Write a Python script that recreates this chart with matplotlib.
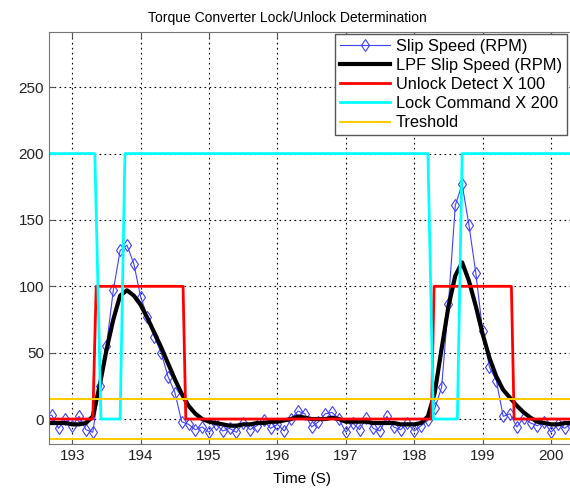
import numpy as np
import matplotlib
matplotlib.use('Agg')
import matplotlib.pyplot as plt

plt.rcParams['font.family'] = ['Liberation Sans', 'DejaVu Sans']

# time base of the logged signals (s)
t = np.round(np.arange(192.6, 200.35, 0.1), 2)

# slip speed (RPM), one value per sample
slip = [2, 3, -7, 0, -5, 2, -8, -10, 25, 55,
        97, 127, 131, 117, 92, 77, 62, 50, 32, 20,
        -2, -4, -8, -6, -10, -4, -9, -7, -10, -3,
        -8, -5, -1, -7, -4, -9, 0, 6, 4, -6,
        -2, 4, 5, 0, -10, -3, -8, 1, -7, -9,
        2, -6, -8, -3, -9, -5, -1, 8, 24, 87,
        161, 177, 146, 110, 66, 39, 29, 2, 4, -6,
        1, -3, -5, -2, -10, -4, -7, -3]

# low pass filtered slip speed (RPM)
lpf = [-3, -3, -3, -3, -4, -4, -3, 2, 25, 52,
       75, 93, 97, 93, 86, 76, 65, 54, 42, 30,
       19, 10, 4, 0, -2, -3, -4, -5, -5, -4,
       -4, -3, -3, -2, -2, -1, 0, 2, 1, 0,
       0, 0, 1, 0, -2, -2, -2, -2, -3, -3,
       -3, -3, -4, -4, -4, -3, 2, 20, 53, 85,
       108, 118, 104, 85, 64, 46, 32, 22, 16, 10,
       5, 1, -2, -3, -4, -4, -3, -3]

# unlock detect x 100 (step signal, breakpoints)
unlock_t = [192.6, 193.30, 193.35, 194.62, 194.66, 198.25, 198.29, 199.42, 199.46, 200.4]
unlock_v = [0, 0, 100, 100, 0, 0, 100, 100, 0, 0]

# lock command x 200 (step signal, breakpoints)
lock_t = [192.6, 193.33, 193.42, 193.70, 193.77, 198.20, 198.28, 198.63, 198.70, 200.4]
lock_v = [200, 200, 0, 0, 200, 200, 0, 0, 200, 200]

thresh = [15, -15]

fig = plt.figure(figsize=(5.70, 4.91), dpi=100)
ax = fig.add_axes([49/570, 1-444/491, 526/570, 412/491])

ax.plot(t, slip, '-', color='#4040ff', lw=0.8, marker='d', ms=6,
        mfc='none', mec='#4040ff', mew=0.8, label='Slip Speed (RPM)')
ax.plot(t, lpf, '-', color='black', lw=3, label='LPF Slip Speed (RPM)')
ax.plot(unlock_t, unlock_v, '-', color='#ff0000', lw=2, label='Unlock Detect X 100')
ax.plot(lock_t, lock_v, '-', color='#00ffff', lw=2, label='Lock Command X 200')
for i, th in enumerate(thresh):
    ax.axhline(th, color='#ffcc00', lw=1.5, label='Treshold' if i == 0 else None)

ax.set_xlim(192.66, 192.66 + 526/68.4)
ax.set_ylim(-18.8, 291.6)
ax.set_xticks(range(193, 201))
ax.set_yticks([0, 50, 100, 150, 200, 250])
ax.grid(True, color='black', linestyle=(0, (1.5, 3)), lw=0.8)
ax.tick_params(direction='in', top=True, right=True, length=4, labelsize=11,
               color='#555555', labelcolor='#222222')
for s in ax.spines.values():
    s.set_color('#777777')

ax.set_title('Torque Converter Lock/Unlock Determination', fontsize=10, pad=7,
             x=(287-49)/526)
ax.set_xlabel('Time (S)', fontsize=11, labelpad=2)
ax.xaxis.set_label_coords((302-49)/526, -0.068)

leg = ax.legend(loc='upper right', bbox_to_anchor=(518/526, 1-2/412), fontsize=11.8,
                handlelength=3.0, borderpad=0.3, labelspacing=0.25, numpoints=1,
                handletextpad=0.4, borderaxespad=0, fancybox=False, framealpha=1)
leg.get_frame().set_edgecolor('#555555')
leg.get_frame().set_linewidth(1.0)

plt.savefig('out.png', dpi=100)
